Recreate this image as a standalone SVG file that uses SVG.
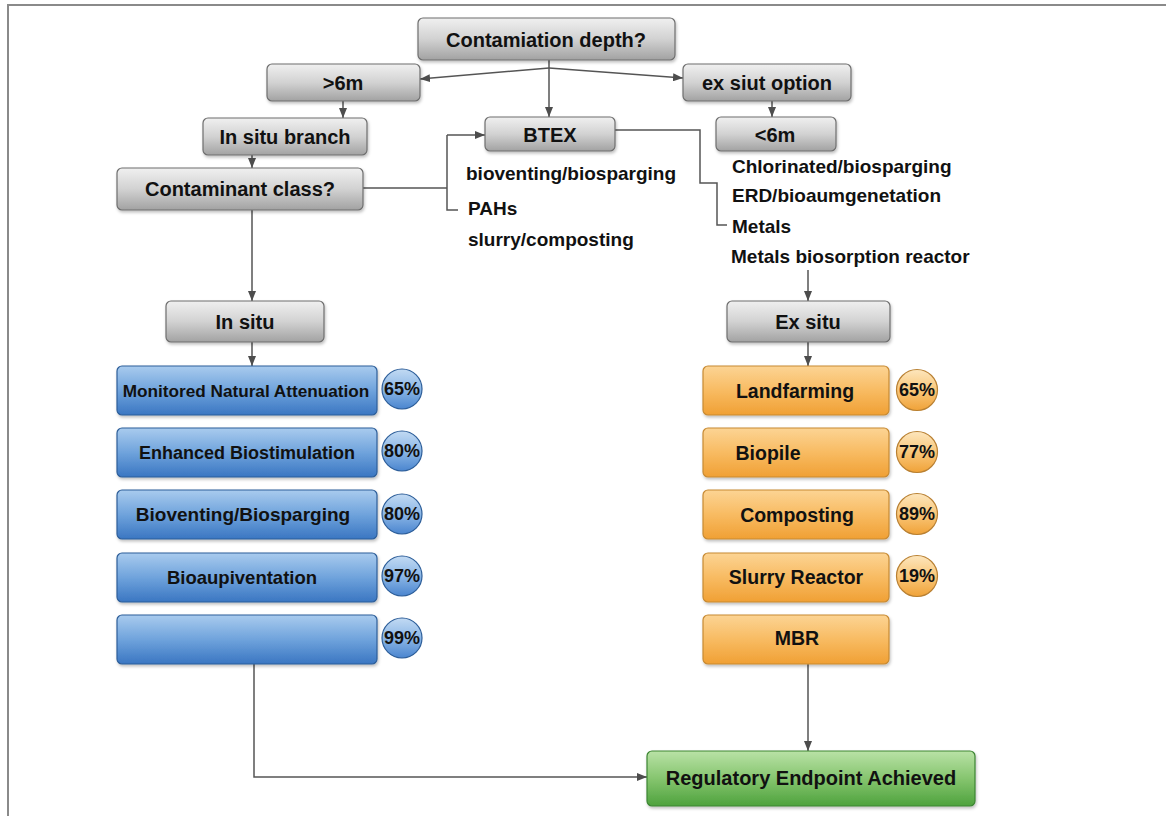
<svg xmlns="http://www.w3.org/2000/svg" width="1166" height="816" viewBox="0 0 1166 816">
<defs>
<linearGradient id="gGray" x1="0" y1="0" x2="0" y2="1">
<stop offset="0" stop-color="#f0f0f0"/><stop offset="0.5" stop-color="#d2d2d2"/><stop offset="1" stop-color="#a2a2a2"/>
</linearGradient>
<linearGradient id="gBlue" x1="0" y1="0" x2="0" y2="1">
<stop offset="0" stop-color="#a9cbee"/><stop offset="0.5" stop-color="#6fa3dc"/><stop offset="1" stop-color="#3a76c2"/>
</linearGradient>
<linearGradient id="gOrange" x1="0" y1="0" x2="0" y2="1">
<stop offset="0" stop-color="#fcd494"/><stop offset="0.5" stop-color="#f8bb62"/><stop offset="1" stop-color="#f0a034"/>
</linearGradient>
<linearGradient id="gGreen" x1="0" y1="0" x2="0" y2="1">
<stop offset="0" stop-color="#b9e2a6"/><stop offset="0.5" stop-color="#86c56f"/><stop offset="1" stop-color="#4ea23d"/>
</linearGradient>
<linearGradient id="gBlueC" x1="0" y1="0" x2="0" y2="1">
<stop offset="0" stop-color="#c2daf3"/><stop offset="0.5" stop-color="#8cb7e6"/><stop offset="1" stop-color="#4a85cf"/>
</linearGradient>
<linearGradient id="gOrangeC" x1="0" y1="0" x2="0" y2="1">
<stop offset="0" stop-color="#fde6bd"/><stop offset="0.5" stop-color="#f9c77a"/><stop offset="1" stop-color="#f0a238"/>
</linearGradient>
<filter id="sh" x="-10%" y="-20%" width="120%" height="150%">
<feDropShadow dx="1" dy="2" stdDeviation="1.5" flood-color="#000" flood-opacity="0.25"/>
</filter>
<marker id="arr" markerUnits="userSpaceOnUse" viewBox="0 0 10 8" refX="10" refY="4" markerWidth="10" markerHeight="8" orient="auto">
<path d="M0,0 L10,4 L0,8 z" fill="#4d4d4d"/>
</marker>
</defs>
<style>
text{font-family:"Liberation Sans",Arial,sans-serif;font-weight:bold;fill:#111;}
.gray{fill:url(#gGray);stroke:#6e6e6e;stroke-width:1.2;filter:url(#sh);}
.blue{fill:url(#gBlue);stroke:#2d5e99;stroke-width:1.2;filter:url(#sh);}
.orange{fill:url(#gOrange);stroke:#c78a33;stroke-width:1.2;filter:url(#sh);}
.green{fill:url(#gGreen);stroke:#3c8532;stroke-width:1.2;filter:url(#sh);}
.cb{fill:url(#gBlueC);stroke:#2d5e99;stroke-width:1.2;}
.co{fill:url(#gOrangeC);stroke:#b98032;stroke-width:1.2;}
.t20{font-size:20px;text-anchor:middle;}
.free{font-size:19px;}
.tb{font-size:18.5px;text-anchor:middle;}
.to{font-size:19.5px;text-anchor:middle;}
.pc{font-size:18px;text-anchor:middle;}
.ln{fill:none;stroke:#555;stroke-width:1.5;}
</style>
<rect x="0" y="0" width="1166" height="816" fill="#ffffff"/>
<path d="M8,816 V5 H1166" fill="none" stroke="#8a8a8a" stroke-width="2"/>

<g id="connectors">
<path class="ln" d="M549,59 V68"/>
<path class="ln" d="M549,68 L420,79" marker-end="url(#arr)"/>
<path class="ln" d="M549,68 L683,78" marker-end="url(#arr)"/>
<path class="ln" d="M549,68 V117" marker-end="url(#arr)"/>
<path class="ln" d="M343,101 V118" marker-end="url(#arr)"/>
<path class="ln" d="M252,155 V168" marker-end="url(#arr)"/>
<path class="ln" d="M363,188 H447"/>
<path class="ln" d="M447,135 V210 H458"/>
<path class="ln" d="M447,135 H485" marker-end="url(#arr)"/>
<path class="ln" d="M772,101 V117" marker-end="url(#arr)"/>
<path class="ln" d="M615,130 H700 V183 H717 V225 H727"/>
<path class="ln" d="M808,270 V301" marker-end="url(#arr)"/>
<path class="ln" d="M252,210 V301" marker-end="url(#arr)"/>
<path class="ln" d="M252,342 V366" marker-end="url(#arr)"/>
<path class="ln" d="M808,342 V366" marker-end="url(#arr)"/>
<path class="ln" d="M254,663 V777 H647" marker-end="url(#arr)"/>
<path class="ln" d="M808,663 V751" marker-end="url(#arr)"/>
</g>

<g id="n_depth"><rect class="gray" x="418" y="18" width="257" height="42" rx="5"/><text class="t20" x="546" y="47">Contamiation depth?</text></g>
<g id="n_gt6"><rect class="gray" x="267" y="64" width="153" height="37" rx="5"/><text class="t20" x="343" y="90">&gt;6m</text></g>
<g id="n_exopt"><rect class="gray" x="683" y="64" width="168" height="37" rx="5"/><text class="t20" x="767" y="90">ex siut option</text></g>
<g id="n_insitu_branch"><rect class="gray" x="203" y="118" width="164" height="37" rx="5"/><text class="t20" x="285" y="144">In situ branch</text></g>
<g id="n_class"><rect class="gray" x="117" y="168" width="246" height="42" rx="5"/><text class="t20" x="240" y="196" textLength="190" lengthAdjust="spacingAndGlyphs">Contaminant class?</text></g>
<g id="n_btex"><rect class="gray" x="485" y="117" width="130" height="34" rx="5"/><text class="t20" x="550" y="142">BTEX</text></g>
<g id="n_lt6"><rect class="gray" x="716" y="117" width="120" height="34" rx="5"/><text class="t20" x="775" y="142">&lt;6m</text></g>

<g id="n_btex_notes">
<text class="free" x="466" y="180">bioventing/biosparging</text>
<text class="free" x="468" y="215">PAHs</text>
<text class="free" x="468" y="246">slurry/composting</text>
</g>
<g id="n_lt6_notes">
<text class="free" x="732" y="173">Chlorinated/biosparging</text>
<text class="free" x="732" y="202">ERD/bioaumgenetation</text>
<text class="free" x="732" y="233">Metals</text>
<text class="free" x="731" y="263">Metals biosorption reactor</text>
</g>

<g id="n_insitu"><rect class="gray" x="166" y="301" width="158" height="41" rx="5"/><text class="t20" x="245" y="329">In situ</text></g>
<g id="n_exsitu"><rect class="gray" x="727" y="301" width="163" height="41" rx="5"/><text class="t20" x="808" y="329">Ex situ</text></g>

<g id="n_mna"><rect class="blue" x="117" y="366" width="260" height="49" rx="5"/><text class="tb" x="246" y="397" style="font-size:17.2px">Monitored Natural Attenuation</text></g>
<g id="n_mna_pct"><circle class="cb" cx="402" cy="389" r="20"/><text class="pc" x="402" y="395">65%</text></g>
<g id="n_ebs"><rect class="blue" x="117" y="428" width="260" height="49" rx="5"/><text class="tb" x="247" y="459" style="font-size:18px">Enhanced Biostimulation</text></g>
<g id="n_ebs_pct"><circle class="cb" cx="402" cy="451" r="20"/><text class="pc" x="402" y="457">80%</text></g>
<g id="n_bvbs"><rect class="blue" x="117" y="490" width="260" height="49" rx="5"/><text class="tb" x="243" y="521" style="font-size:19px">Bioventing/Biosparging</text></g>
<g id="n_bvbs_pct"><circle class="cb" cx="402" cy="514" r="20"/><text class="pc" x="402" y="520">80%</text></g>
<g id="n_baug"><rect class="blue" x="117" y="553" width="260" height="49" rx="5"/><text class="tb" x="242" y="584">Bioaupiventation</text></g>
<g id="n_baug_pct"><circle class="cb" cx="402" cy="576" r="20"/><text class="pc" x="402" y="582">97%</text></g>
<g id="n_blank"><rect class="blue" x="117" y="615" width="260" height="49" rx="5"/></g>
<g id="n_blank_pct"><circle class="cb" cx="402" cy="638" r="20"/><text class="pc" x="402" y="644">99%</text></g>

<g id="n_landfarming"><rect class="orange" x="703" y="366" width="186" height="49" rx="5"/><text class="to" x="795" y="398">Landfarming</text></g>
<g id="n_landfarming_pct"><circle class="co" cx="917" cy="390" r="20.5"/><text class="pc" x="917" y="396">65%</text></g>
<g id="n_biopile"><rect class="orange" x="703" y="428" width="186" height="49" rx="5"/><text class="to" x="768" y="460">Biopile</text></g>
<g id="n_biopile_pct"><circle class="co" cx="917" cy="452" r="20.5"/><text class="pc" x="917" y="458">77%</text></g>
<g id="n_composting"><rect class="orange" x="703" y="490" width="186" height="49" rx="5"/><text class="to" x="797" y="522">Composting</text></g>
<g id="n_composting_pct"><circle class="co" cx="917" cy="514" r="20.5"/><text class="pc" x="917" y="520">89%</text></g>
<g id="n_slurry"><rect class="orange" x="703" y="553" width="186" height="49" rx="5"/><text class="to" x="796" y="584">Slurry Reactor</text></g>
<g id="n_slurry_pct"><circle class="co" cx="917" cy="576" r="20.5"/><text class="pc" x="917" y="582">19%</text></g>
<g id="n_mbr"><rect class="orange" x="703" y="615" width="186" height="49" rx="5"/><text class="to" x="797" y="645">MBR</text></g>

<g id="n_endpoint"><rect class="green" x="647" y="751" width="328" height="55" rx="5"/><text class="t20" x="811" y="785">Regulatory Endpoint Achieved</text></g>
</svg>
